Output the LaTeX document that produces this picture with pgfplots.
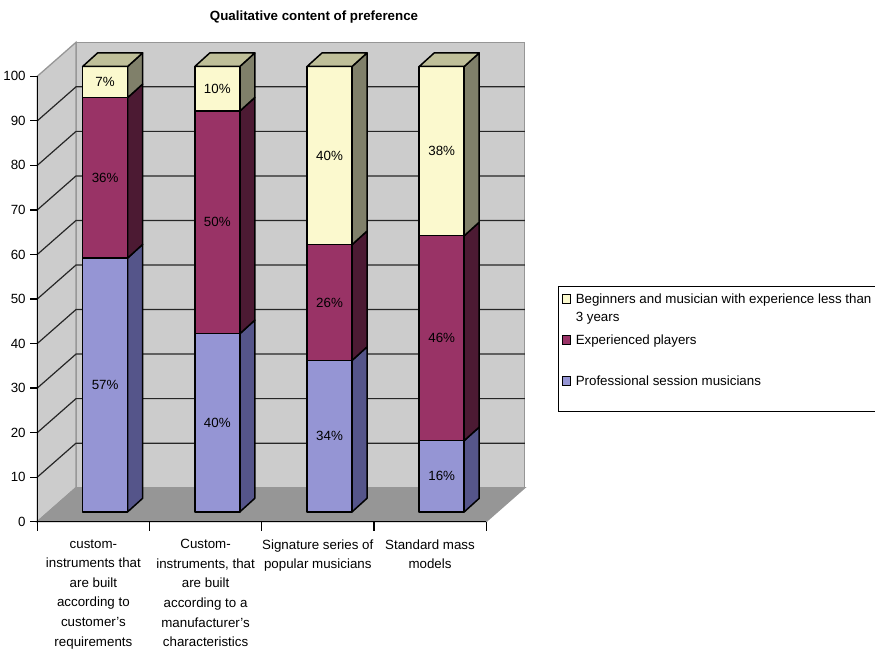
\documentclass[border=0pt]{standalone}
\usepackage{pgfplots}
\pgfplotsset{compat=1.18}
\usepackage{fontspec}
\setmainfont{Liberation Sans}
\newlength{\px}
\setlength{\px}{0.75pt}

\definecolor{wall}{HTML}{CCCCCC}
\definecolor{wallline}{HTML}{969696}
\definecolor{floorgray}{HTML}{969696}
\definecolor{blueF}{HTML}{9595D4}
\definecolor{blueS}{HTML}{55558A}
\definecolor{redF}{HTML}{993366}
\definecolor{redS}{HTML}{4C1A33}
\definecolor{yelF}{HTML}{FBF9CE}
\definecolor{yelS}{HTML}{80806A}
\definecolor{yelT}{HTML}{BFBF99}

\newcommand{\labelfont}{\fontsize{10}{12}\selectfont}

\pgfplotsset{
  face/.style={forget plot, draw=black, line width=1.5\px, line join=round, mark=none},
  swatch/.style={legend image code/.code={
    \draw[##1, draw=black, line width=1.3\px] (0,0) rectangle (8.5\px,8.5\px);
    \path (13\px,0);}},
}

% depth of the chart box and of a bar, in axis units
\def\wallDX{0.345}
\def\wallDY{7.63}
\def\barDX{0.1337}
\def\barDY{3.05}
\def\barOY{2.2}

% one stacked segment: slot, lower value, segment value, front colour, side colour
\newcommand{\segment}[5]{%
  \pgfmathsetmacro{\xl}{#1+0.404}%
  \pgfmathsetmacro{\xr}{#1+0.805}%
  \pgfmathsetmacro{\xd}{\xr+\barDX}%
  \pgfmathsetmacro{\ya}{#2+\barOY}%
  \pgfmathsetmacro{\yb}{#2+#3+\barOY}%
  \pgfmathsetmacro{\yad}{\ya+\barDY}%
  \pgfmathsetmacro{\ybd}{\yb+\barDY}%
  \pgfmathsetmacro{\xm}{(\xl+\xr)/2}%
  \pgfmathsetmacro{\ym}{(\ya+\yb)/2}%
  \addplot[face, fill=#5] coordinates {(\xr,\ya) (\xd,\yad) (\xd,\ybd) (\xr,\yb)} --cycle;
  \addplot[face, fill=#4] coordinates {(\xl,\ya) (\xr,\ya) (\xr,\yb) (\xl,\yb)} --cycle;
  \edef\valuelabel{\noexpand\node[font=\noexpand\labelfont, text=black] at (axis cs:\xm,\ym) {#3\noexpand\%};}%
  \valuelabel
}

% a whole bar: slot, professional, experienced, beginners
\newcommand{\stackedbar}[4]{%
  \segment{#1}{0}{#2}{blueF}{blueS}
  \pgfmathsetmacro{\baseB}{#2}%
  \segment{#1}{\baseB}{#3}{redF}{redS}
  \pgfmathsetmacro{\baseC}{#2+#3}%
  \segment{#1}{\baseC}{#4}{yelF}{yelS}
  \pgfmathsetmacro{\xl}{#1+0.404}%
  \pgfmathsetmacro{\xr}{#1+0.805}%
  \pgfmathsetmacro{\yt}{#2+#3+#4+\barOY}%
  \pgfmathsetmacro{\xlb}{\xl+\barDX}%
  \pgfmathsetmacro{\xrb}{\xr+\barDX}%
  \pgfmathsetmacro{\ytb}{\yt+\barDY}%
  \addplot[face, fill=yelT] coordinates {(\xl,\yt) (\xr,\yt) (\xrb,\ytb) (\xlb,\ytb)} --cycle;
}

\begin{document}
\begin{tikzpicture}[x=1pt,y=1pt]
\path[use as bounding box] (0,0) rectangle (875\px,652\px);
\begin{axis}[
  at={(37.3\px,130.3\px)}, anchor=south west,
  scale only axis, width=448.8\px, height=445.4\px,
  xmin=0, xmax=4, ymin=0, ymax=100,
  clip=false, axis on top,
  axis lines*=left,
  axis line style={line width=1.2\px, black},
  tick align=outside,
  every tick/.style={black, line width=1.2\px},
  major tick length=7\px,
  xtick={0,1,2,3,4}, xticklabels={},
  ytick={0,10,...,100},
  x tick style={/pgfplots/major tick length=9\px},
  /pgf/number format/assume math mode=true,
  tick label style={font=\labelfont},
  extra x ticks={0.5,1.5,2.5,3.5},
  extra x tick style={
    tick style={draw=none},
    tick label style={align=center, anchor=north, font=\fontsize{10}{14.7}\selectfont, yshift=-6\px},
  },
  extra x tick labels={
    {custom-\\instruments that\\are built\\according to\\customer’s\\requirements},
    {Custom-\\instruments, that\\are built\\according to a\\manufacturer\symbol{39}s\\characteristics},
    {Signature series of\\popular musicians},
    {Standard mass\\models}
  },
  title={\textbf{Qualitative content of preference}},
  every axis title shift=0pt,
  title style={at={(0.6166,1.134)}, anchor=center, font=\labelfont},
  legend cell align=left,
  legend style={
    at={(1.16,0.53)}, anchor=north west,
    draw=black, line width=1.2\px, fill=white,
    inner xsep=3\px, inner ysep=1\px,
    row sep=0pt,
    nodes={font=\fontsize{10}{13.5}\selectfont, inner sep=0pt, text depth=, anchor=base west},
  },
]
% legend entries, each row padded to the same height
\addlegendimage{swatch, fill=yelF}
\addlegendentry{\parbox[t]{306\px}{\rule{0pt}{16\px}Beginners and musician with experience less than\\3 years\rule[-7\px]{0pt}{7\px}}}
\addlegendimage{swatch, fill=redF}
\addlegendentry{\parbox[t]{306\px}{\rule[-25\px]{0pt}{41\px}Experienced players}}
\addlegendimage{swatch, fill=blueF}
\addlegendentry{\parbox[t]{306\px}{\rule[-25\px]{0pt}{41\px}Professional session musicians}}

% walls and floor of the chart box
\addplot[forget plot, fill=wall, draw=wallline, line width=1.3\px, mark=none]
  coordinates {(\wallDX,7.63) (4.345,7.63) (4.345,107.63) (\wallDX,107.63)} --cycle;
\addplot[forget plot, fill=wall, draw=wallline, line width=1.3\px, mark=none]
  coordinates {(0,0) (\wallDX,7.63) (\wallDX,107.63) (0,100)} --cycle;
\addplot[forget plot, fill=floorgray, draw=wallline, line width=1.3\px, mark=none]
  coordinates {(0,0) (4,0) (4.345,7.63) (\wallDX,7.63)} --cycle;

% gridlines along the left wall and the back wall
\pgfplotsinvokeforeach{10,20,...,90}{
  \pgfmathsetmacro{\yback}{#1+\wallDY}
  \addplot[forget plot, black!85, line width=1.2\px, mark=none]
    coordinates {(0,#1) (\wallDX,\yback) (4.345,\yback)};
}

% Professional session musicians, Experienced players, Beginners
\stackedbar{0}{57}{36}{7}
\stackedbar{1}{40}{50}{10}
\stackedbar{2}{34}{26}{40}
\stackedbar{3}{16}{46}{38}
\end{axis}
\end{tikzpicture}
\end{document}
